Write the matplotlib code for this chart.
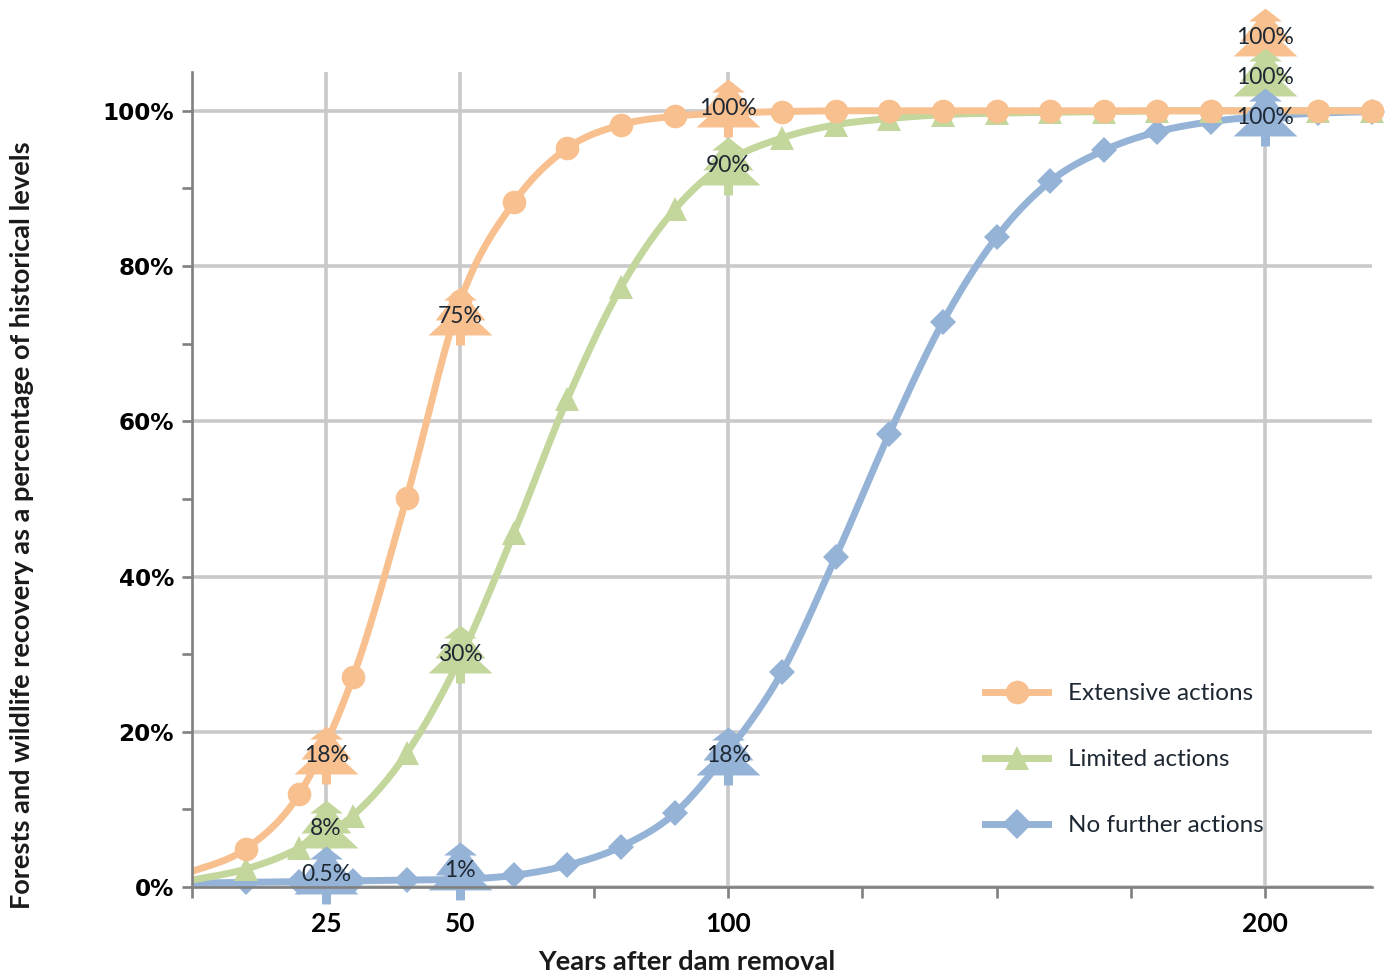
import numpy as np
import matplotlib
matplotlib.use("Agg")
import matplotlib.pyplot as plt
from matplotlib.path import Path
from matplotlib.ticker import MultipleLocator, FixedLocator, FuncFormatter
from matplotlib.lines import Line2D
import matplotlib.transforms as mtransforms

# ---------------- data ----------------
years = [0, 10, 20, 30, 40, 50, 60, 70, 80, 90, 100, 110, 120, 130, 140,
         150, 160, 170, 180, 190, 200, 210, 220]
extensive = [2.0, 4.9, 12.0, 27.0, 50.1, 75.5, 88.2, 95.2, 98.2, 99.3, 99.7,
             99.9, 100, 100, 100, 100, 100, 100, 100, 100, 100, 100, 100]
limited = [0.9, 2.3, 5.0, 9.2, 17.2, 29.5, 45.6, 62.9, 77.3, 87.3, 93.5,
           96.5, 98.2, 99.0, 99.5, 99.7, 99.8, 99.9, 100, 100, 100, 100, 100]
no_further = [0.5, 0.6, 0.7, 0.8, 0.9, 1.0, 1.5, 2.8, 5.2, 9.5, 17.5, 27.7,
              42.5, 58.4, 72.8, 83.7, 90.9, 94.9, 97.3, 98.6, 99.3, 99.7, 99.9]

series_names = ["Extensive actions", "Limited actions", "No further actions"]

tree_years = [25, 50, 100, 200]
tree_extensive = [17.0, 73.5, 100.3, 99.2]
tree_limited = [7.5, 30.0, 92.9, 99.2]
tree_no_further = [1.6, 2.1, 16.9, 99.2]
labels_extensive = ["18%", "75%", "100%", "100%"]
labels_limited = ["8%", "30%", "90%", "100%"]
labels_no_further = ["0.5%", "1%", "18%", "100%"]

x_tick_labels = [25, 50, 100, 200]
y_ticks = [0, 20, 40, 60, 80, 100]

# ---------------- styles ----------------
C_ORANGE = "#F9C08F"
C_GREEN = "#C3D69B"
C_BLUE = "#95B3D7"
GRID = "#C9C9C9"
SPINE = "#808080"
TXT = "#1E2833"


def smooth(xs, ys, n=24):
    """Catmull-Rom style smoothing through the points (Excel-like smooth line)."""
    xs = np.asarray(xs, float)
    ys = np.asarray(ys, float)
    px = np.concatenate([[xs[0]], xs, [xs[-1]]])
    py = np.concatenate([[ys[0]], ys, [ys[-1]]])
    ox, oy = [], []
    t = np.linspace(0, 1, n, endpoint=False)
    for i in range(1, len(px) - 2):
        p0 = np.array([px[i - 1], py[i - 1]])
        p1 = np.array([px[i], py[i]])
        p2 = np.array([px[i + 1], py[i + 1]])
        p3 = np.array([px[i + 2], py[i + 2]])
        c1 = p1 + (p2 - p0) / 6.0
        c2 = p2 - (p3 - p1) / 6.0
        b = ((1 - t) ** 3)[:, None] * p1 + (3 * (1 - t) ** 2 * t)[:, None] * c1 \
            + (3 * (1 - t) * t ** 2)[:, None] * c2 + (t ** 3)[:, None] * p2
        ox.extend(b[:, 0])
        oy.extend(b[:, 1])
    ox.append(xs[-1])
    oy.append(ys[-1])
    return np.array(ox), np.array(oy)


# pine tree marker
tree_verts = [(0, 29), (16.5, 16), (9, 16), (25, -4), (16, -4), (32, -19),
              (4.5, -19), (4.5, -29), (-4.5, -29), (-4.5, -19), (-32, -19),
              (-16, -4), (-25, -4), (-9, 16), (-16.5, 16), (0, 29)]
tree_codes = [Path.MOVETO] + [Path.LINETO] * (len(tree_verts) - 2) + [Path.CLOSEPOLY]
tree_path = Path(tree_verts, tree_codes)

fig = plt.figure(figsize=(13.96, 9.75), dpi=100)
ax = fig.add_axes([192 / 1396, 1 - 887 / 975, 1180 / 1396, 815 / 975])

ax.set_xlim(0, 220)
ax.set_ylim(0, 105)

# grid
for yv in y_ticks:
    ax.axhline(yv, color=GRID, lw=2.6, zorder=0.5)
for xv in x_tick_labels:
    ax.axvline(xv, color=GRID, lw=2.6, zorder=0.5)

specs = [
    (extensive, C_ORANGE, "o", 17, 4),
    (limited, C_GREEN, "^", 17, 3),
    (no_further, C_BLUE, "D", 13, 2),
]
for (vals, col, mk, ms, z) in specs:
    sx, sy = smooth(years, vals)
    ax.plot(sx, sy, color=col, lw=5, solid_capstyle="butt", zorder=z)
    ax.plot(years[1:], vals[1:], linestyle="none", marker=mk, ms=ms,
            color=col, markeredgewidth=0, zorder=z, clip_on=False)

# trees with labels
tree_sets = [
    (tree_extensive, labels_extensive, C_ORANGE, 2),
    (tree_limited, labels_limited, C_GREEN, 1),
    (tree_no_further, labels_no_further, C_BLUE, 0),
]
stack_step_pt = 40 * 72 / 100.0
last_year = max(tree_years)
for zi, (vals, labs, col, rank) in enumerate(tree_sets):
    for xv, yv, lab in zip(tree_years, vals, labs):
        dy = rank * stack_step_pt if xv == last_year else 0.0
        tr = ax.transData + mtransforms.ScaledTranslation(0, dy / 72.0, fig.dpi_scale_trans)
        ax.plot([xv], [yv], linestyle="none", marker=tree_path, ms=46,
                color=col, markeredgewidth=0, transform=tr, clip_on=False,
                zorder=5 + zi * 0.1)
        ax.text(xv, yv, lab, transform=tr, ha="center", va="center",
                fontsize=16.5, family="Lato", color=TXT, zorder=10)

# axes styling
for s in ["top", "right"]:
    ax.spines[s].set_visible(False)
for s in ["left", "bottom"]:
    ax.spines[s].set_color(SPINE)
    ax.spines[s].set_linewidth(1.9)
    ax.spines[s].set_zorder(6)

ax.xaxis.set_major_locator(FixedLocator(x_tick_labels))
ax.xaxis.set_minor_locator(MultipleLocator(25))
ax.yaxis.set_major_locator(FixedLocator(y_ticks))
ax.yaxis.set_minor_locator(MultipleLocator(10))
ax.yaxis.set_major_formatter(FuncFormatter(lambda v, p: f"{int(v)}%"))

ax.tick_params(axis="x", which="both", direction="out", length=8, width=1.9,
               color=SPINE, pad=10)
ax.tick_params(axis="y", which="both", direction="out", length=7, width=1.9,
               color=SPINE, pad=6)
for lab in ax.get_xticklabels():
    lab.set_fontfamily("Lato")
    lab.set_fontweight("bold")
    lab.set_fontsize(19)
for lab in ax.get_yticklabels():
    lab.set_fontfamily("DejaVu Sans")
    lab.set_fontweight("bold")
    lab.set_fontsize(16.7)

fig.text(687 / 1396, 1 - 962 / 975, "Years after dam removal", ha="center",
         va="center", fontsize=19.7, family="Lato", fontweight="bold", color="#1a1a1a")
fig.text(22 / 1396, 1 - 525 / 975,
         "Forests and wildlife recovery as a percentage of historical levels",
         rotation=90, ha="center", va="center", fontsize=19.5, family="Lato",
         fontweight="bold", color="#1a1a1a")

handles = [
    Line2D([], [], color=C_ORANGE, lw=5, marker="o", ms=17, markeredgewidth=0),
    Line2D([], [], color=C_GREEN, lw=5, marker="^", ms=17, markeredgewidth=0),
    Line2D([], [], color=C_BLUE, lw=5, marker="D", ms=15, markeredgewidth=0),
]
leg = ax.legend(handles, series_names, loc="upper left",
                bbox_to_anchor=(0.672, 0.25), frameon=False, borderpad=0,
                borderaxespad=0, handlelength=2.6, handletextpad=0.8,
                labelspacing=1.85, prop={"family": "Lato", "size": 17.5})
for t in leg.get_texts():
    t.set_color(TXT)

fig.savefig("out.png", dpi=100)
